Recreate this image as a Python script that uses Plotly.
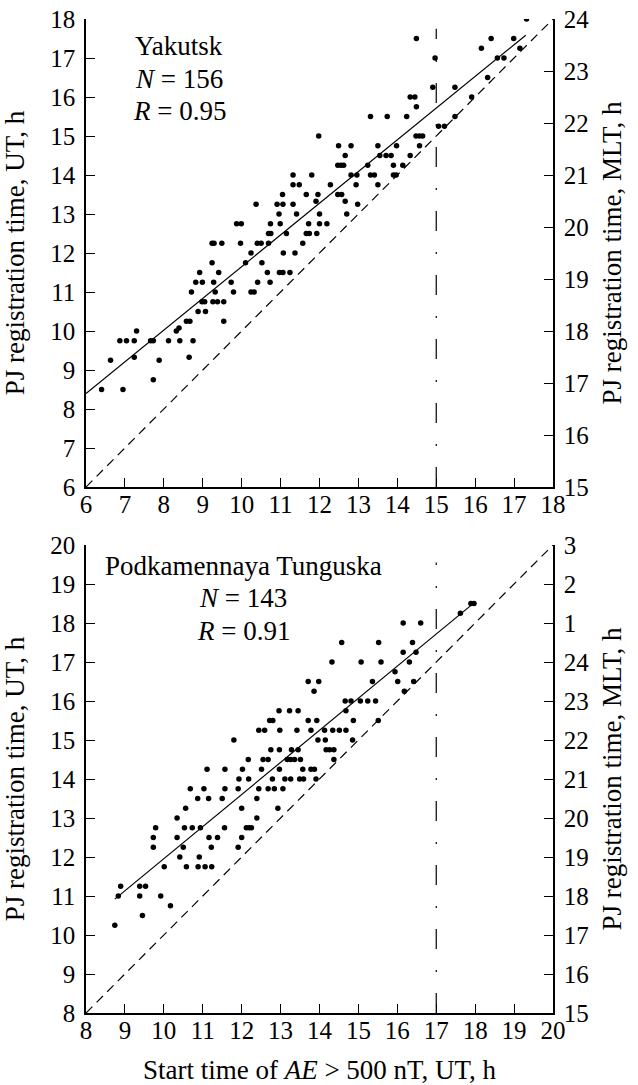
import plotly.graph_objects as go
import numpy as np

# ---------------- data ----------------
yak_x = [6.40, 6.95, 6.63, 6.87, 7.04, 7.24, 7.30, 7.24, 7.66, 7.73, 7.73, 7.88, 8.12, 8.32, 8.39,
         8.41, 8.58, 8.67, 8.65, 8.75, 8.71, 8.88, 8.98, 9.05, 9.07, 8.82, 8.99, 8.92, 9.24, 9.24,
         9.29, 9.49, 9.28, 9.32, 9.41, 9.26, 9.38, 9.54, 9.54, 9.73, 9.79, 9.87, 9.99, 9.97, 10.10,
         10.24, 10.24, 10.32, 10.37, 10.40, 10.50, 10.41, 10.52, 10.66, 10.69, 10.69, 10.75, 10.73,
         10.74, 10.91, 11.06, 10.96, 10.99, 11.05, 11.32, 11.32, 11.48, 11.32, 11.41, 11.15, 11.07,
         11.37, 10.97, 11.06, 11.24, 11.66, 11.72, 11.66, 11.57, 11.74,
         17.32, 14.49, 16.41, 16.99, 16.16, 16.57, 16.74, 17.15, 14.97, 14.91, 15.48, 16.32, 15.91,
         14.33, 14.45, 14.49, 13.31, 13.74, 14.24, 15.06, 15.21, 15.48, 11.98, 14.48, 14.57, 14.65,
         12.49, 12.81, 13.50, 13.98, 14.57, 12.66, 13.55, 13.71, 13.84, 14.33, 12.47, 12.55, 12.62,
         13.24, 13.90, 14.14, 11.80, 12.81, 12.96, 13.31, 13.41, 13.90, 13.97, 12.28, 12.94, 13.50,
         11.96, 12.47, 12.57, 11.91, 12.66, 12.98, 12.00, 12.70, 12.00, 12.19, 11.93]
yak_y = [8.50, 8.50, 9.25, 9.75, 9.75, 9.75, 10.0, 9.33, 9.75, 9.75, 8.75, 9.25, 9.75, 10.0, 10.08,
         9.75, 10.25, 10.25, 9.33, 9.75, 11.0, 10.5, 10.75, 10.75, 10.5, 11.25, 11.25, 11.5, 11.75, 12.25,
         12.25, 12.25, 11.25, 11.0, 11.5, 10.75, 10.75, 10.75, 10.25, 11.25, 11.0, 12.75, 12.75, 12.25, 11.75,
         12.0, 11.0, 11.0, 13.25, 12.25, 12.25, 11.25, 11.75, 11.5, 12.25, 12.5, 12.5, 11.25,
         12.75, 13.25, 13.25, 13.0, 12.75, 13.5, 14.0, 13.75, 13.75, 13.25, 13.0, 12.5, 12.0,
         12.0, 11.5, 11.5, 11.5, 13.5, 12.75, 12.5, 12.25, 12.5,
         18.0, 17.5, 17.5, 17.5, 17.25, 17.0, 17.0, 17.25, 17.0, 16.25, 16.25, 16.5, 16.0,
         16.0, 16.0, 15.75, 15.5, 15.5, 15.5, 15.25, 15.25, 15.5, 15.0, 15.0, 15.0, 15.0,
         14.75, 14.75, 14.75, 14.75, 14.75, 14.5, 14.5, 14.5, 14.5, 14.5, 14.25, 14.25, 14.25,
         14.25, 14.25, 14.25, 14.0, 14.0, 14.0, 14.0, 14.0, 14.0, 14.0, 13.75, 13.75, 13.75,
         13.5, 13.5, 13.5, 13.33, 13.33, 13.25, 13.0, 13.0, 12.75, 12.75, 12.5]

pt_x = [8.74, 8.83, 8.89, 9.38, 9.53, 9.38, 9.45, 9.92, 10.17, 10.01, 9.73, 9.73, 9.79, 10.34, 10.34,
        10.41, 10.50, 10.53, 10.73, 10.56, 10.58, 10.88, 11.06, 11.23, 10.91, 10.94, 10.68, 11.03,
        10.87, 11.15, 11.50, 11.11, 11.57, 11.57, 11.16, 11.38, 11.22, 11.56, 11.80, 11.91, 11.93,
        12.18, 12.02, 12.00, 12.12, 12.19, 12.25, 12.00, 11.91, 12.17, 12.39, 12.39, 12.44, 12.68,
        12.84, 13.06, 12.51, 12.55, 12.68, 12.79, 12.97, 12.75, 12.97, 12.93, 12.44, 12.59, 12.98,
        12.72, 12.80, 12.96, 13.23, 13.45, 13.11, 13.26, 13.17, 13.26, 13.36, 13.45, 13.42, 13.51,
        13.49, 13.59, 13.57, 13.71, 13.71,
        17.89, 17.97, 17.62, 16.15, 16.60, 14.57, 15.52, 16.39, 16.15, 16.48, 14.32, 15.07, 15.58,
        16.31, 15.94, 13.98, 13.86, 15.36, 16.01, 16.42, 16.18, 14.66, 14.81, 15.05, 15.24, 15.44,
        14.68, 13.93, 14.87, 15.51, 13.78, 14.13, 14.34, 14.51, 14.68, 14.85, 13.96, 14.15, 14.17,
        14.26, 14.37, 13.28, 14.37, 13.78, 13.87, 13.91]
pt_y = [10.25, 11.0, 11.25, 11.25, 11.25, 11.0, 10.5, 11.0, 10.75, 11.75, 12.5, 12.25, 12.75, 12.5, 13.0,
        12.0, 12.25, 12.75, 12.75, 13.25, 11.75, 11.75, 11.75, 11.75, 12.0, 12.75, 13.75, 13.75,
        13.5, 13.5, 13.5, 14.25, 14.25, 13.75, 12.5, 12.5, 12.25, 12.75, 15.0, 13.75, 14.0,
        14.0, 14.25, 13.25, 12.75, 12.75, 12.75, 12.5, 12.25, 14.5, 13.0, 13.5, 13.75, 13.75,
        13.75, 13.75, 14.25, 14.5, 14.5, 14.0, 14.25, 14.75, 14.75, 13.25, 15.25, 15.25, 15.25,
        15.5, 15.5, 15.75, 15.75, 15.75, 14.0, 14.0, 14.5, 14.5, 14.5, 14.75, 15.25, 14.5,
        14.0, 14.0, 14.25, 16.5, 15.5,
        18.5, 18.5, 18.25, 18.0, 18.0, 17.5, 17.5, 17.5, 17.25, 17.25, 17.0, 17.0, 17.0,
        17.0, 16.75, 16.5, 16.25, 16.5, 16.5, 16.5, 16.25, 16.0, 16.0, 16.0, 16.0, 16.0,
        15.75, 15.5, 15.5, 15.5, 15.25, 15.25, 15.25, 15.25, 15.25, 15.0, 15.0, 15.0, 14.75,
        14.75, 14.75, 14.75, 14.5, 14.25, 14.25, 14.0]

# regression lines (intercept, slope) and their x extent
yak_fit = (3.52, 0.813)
yak_fit_x = [6.0, 17.3]
pt_fit = (3.727, 0.823)
pt_fit_x = [8.74, 17.97]

# vertical dash-dot markers
yak_cut_x = 15
yak_cut_y = [6, 17.75]
pt_cut_x = 17
pt_cut_y = [8, 19.55]

# axis ranges / ticks
yak_range = [6, 18]
pt_range = [8, 20]
yak_mlt = list(range(15, 25))
pt_mlt_labels = ["15", "16", "17", "18", "19", "20", "21", "22", "23", "24", "1", "2", "3"]

# panel labels
yak_text = ["Yakutsk", "<i>N</i> = 156", "<i>R</i> = 0.95"]
pt_text = ["Podkamennaya Tunguska", "<i>N</i> = 143", "<i>R</i> = 0.91"]

# ---------------- figure ----------------
FONT = "Liberation Serif, Times New Roman, serif"
fig = go.Figure()

def add_panel(xs, ys, fit, fit_x, cut_x, cut_y, rng, xa, ya):
    fx = np.array(fit_x)
    fig.add_trace(go.Scatter(x=list(rng), y=list(rng), mode="lines", xaxis=xa, yaxis=ya,
                             line=dict(color="black", width=1.2, dash="9px,6px"),
                             showlegend=False, hoverinfo="skip"))
    fig.add_trace(go.Scatter(x=fx, y=fit[0] + fit[1] * fx, mode="lines", xaxis=xa, yaxis=ya,
                             line=dict(color="black", width=1.2), showlegend=False, hoverinfo="skip"))
    fig.add_trace(go.Scatter(x=[cut_x, cut_x], y=cut_y, mode="lines", xaxis=xa, yaxis=ya,
                             line=dict(color="black", width=1.2, dash="20px,21px,2px,21px"),
                             showlegend=False, hoverinfo="skip"))
    fig.add_trace(go.Scatter(x=xs, y=ys, mode="markers", xaxis=xa, yaxis=ya,
                             marker=dict(color="black", size=5.5, line=dict(width=0)),
                             showlegend=False))

add_panel(yak_x, yak_y, yak_fit, yak_fit_x, yak_cut_x, yak_cut_y, yak_range, "x", "y")
add_panel(pt_x, pt_y, pt_fit, pt_fit_x, pt_cut_x, pt_cut_y, pt_range, "x2", "y3")

# invisible traces to anchor right axes
fig.add_trace(go.Scatter(x=[None], y=[None], xaxis="x", yaxis="y2", showlegend=False, hoverinfo="skip"))
fig.add_trace(go.Scatter(x=[None], y=[None], xaxis="x2", yaxis="y4", showlegend=False, hoverinfo="skip"))

H, W = 1085, 638
mt, mb, ml, mr = 19, 72, 86, 85
ph = H - mt - mb
pw = W - ml - mr
top_dom = [(1013 - 487) / ph, 1.0]
bot_dom = [0.0, (1013 - 545) / ph]

ax_common = dict(showline=True, linecolor="black", linewidth=1.5, ticks="inside", ticklen=9,
                 tickwidth=1.3, tickcolor="black", showgrid=False, zeroline=False, automargin=False,
                 tickfont=dict(family=FONT, size=25, color="black"))
x_common = dict(ax_common, ticklabelstandoff=-6)
y_common = dict(ax_common, ticklabelstandoff=4)
title_font = dict(family=FONT, size=27, color="black")

annots = []
for lines, cx, ys in [(yak_text, 179, [46, 79, 111]), (pt_text, 243, [566, 598, 631])]:
    for t, yy in zip(lines, ys):
        annots.append(dict(x=(cx - ml) / pw, y=(1013 - yy) / ph, xref="paper", yref="paper",
                           text=t, showarrow=False, xanchor="center", yanchor="middle",
                           font=dict(family=FONT, size=27, color="black")))

fig.update_layout(
    width=W, height=H,
    margin=dict(t=mt, b=mb, l=ml, r=mr, autoexpand=False),
    paper_bgcolor="white", plot_bgcolor="white",
    xaxis=dict(domain=[0, 1], anchor="y", range=yak_range, dtick=1, tick0=6, **x_common),
    yaxis=dict(domain=top_dom, anchor="x", range=yak_range, dtick=1, tick0=6,
               title=dict(text="PJ registration time, UT, h", font=title_font, standoff=18), **y_common),
    yaxis2=dict(overlaying="y", side="right", anchor="x", range=[15, 24], tickvals=yak_mlt,
                title=dict(text="PJ registration time, MLT, h", font=title_font, standoff=14), **y_common),
    xaxis2=dict(domain=[0, 1], anchor="y3", range=pt_range, dtick=1, tick0=8,
                title=dict(text="Start time of <i>AE</i> > 500 nT, UT, h", font=title_font, standoff=24),
                **x_common),
    yaxis3=dict(domain=bot_dom, anchor="x2", range=pt_range, dtick=1, tick0=8,
                title=dict(text="PJ registration time, UT, h", font=title_font, standoff=18), **y_common),
    yaxis4=dict(overlaying="y3", side="right", anchor="x2", range=pt_range,
                tickvals=list(range(pt_range[0], pt_range[1] + 1)), ticktext=pt_mlt_labels,
                title=dict(text="PJ registration time, MLT, h", font=title_font, standoff=14), **y_common),
    annotations=annots,
)

fig.write_html("out.html")
